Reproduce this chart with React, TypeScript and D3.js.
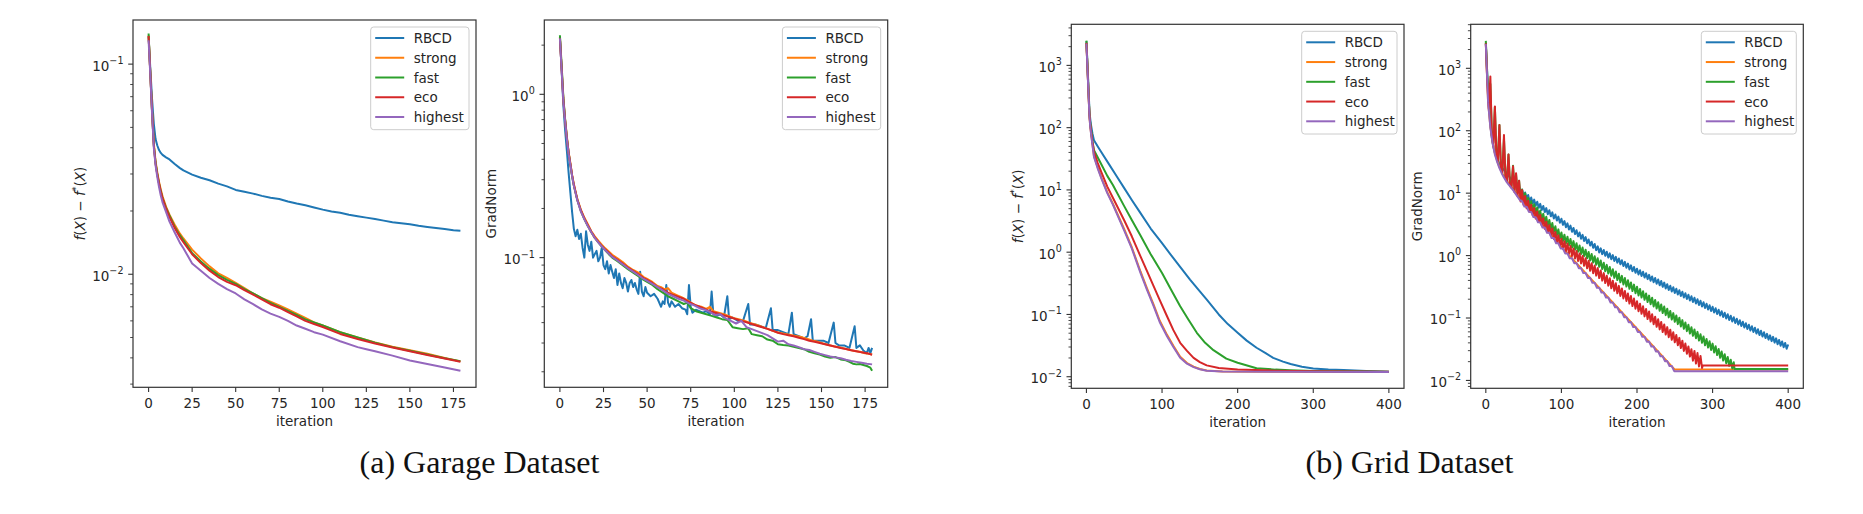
import React from "react";
import * as d3 from "d3";

type Pt = [number, number];

const seriesNames = ["RBCD", "strong", "fast", "eco", "highest"];
const seriesColors = ["#1f77b4", "#ff7f0e", "#2ca02c", "#d62728", "#9467bd"];

const garageXTicks = [0, 25, 50, 75, 100, 125, 150, 175];
const gridXTicks = [0, 100, 200, 300, 400];
const captions = ["(a) Garage Dataset", "(b) Grid Dataset"];

// ---------- (a) Garage: f(X) - f*(X) ----------
const garageCostRBCD: Pt[] = [[0,0.135],[1,0.095],[2,0.068],[3,0.052],[4,0.044],[5,0.041],[6,0.039],[7,0.0378],[8,0.037],[10,0.036],[12,0.0352],[15,0.0335],[18,0.032],[20,0.0312],[25,0.0298],[30,0.0288],[35,0.028],[40,0.027],[45,0.0262],[50,0.0252],[55,0.0247],[60,0.0242],[65,0.0236],[70,0.0231],[75,0.0228],[80,0.0222],[85,0.0217],[90,0.0213],[95,0.0208],[100,0.0203],[105,0.0199],[110,0.0196],[115,0.0192],[120,0.0189],[125,0.0186],[130,0.0183],[135,0.018],[140,0.0177],[145,0.0175],[150,0.0173],[155,0.017],[160,0.0168],[165,0.0166],[170,0.0164],[175,0.0162],[179,0.0161]];
const garageCostStrong: Pt[] = [[0,0.137],[1,0.09],[2,0.06],[3,0.042],[4,0.0345],[5,0.0305],[6,0.0275],[7,0.0253],[8,0.0235],[10,0.021],[12,0.0192],[15,0.0172],[18,0.0156],[20,0.0148],[25,0.0131],[30,0.0119],[35,0.0109],[40,0.0101],[45,0.0096],[50,0.0091],[55,0.0086],[60,0.0081],[65,0.0077],[70,0.0074],[75,0.0071],[80,0.0068],[85,0.0065],[90,0.0062],[95,0.0059],[100,0.0057],[110,0.0053],[120,0.005],[130,0.00474],[140,0.00452],[150,0.00435],[160,0.00418],[170,0.004],[179,0.00385]];
const garageCostFast: Pt[] = [[0,0.14],[1,0.09],[2,0.059],[3,0.041],[4,0.034],[5,0.03],[6,0.027],[7,0.0248],[8,0.023],[10,0.0207],[12,0.019],[15,0.0168],[18,0.0153],[20,0.0145],[25,0.0126],[30,0.0115],[35,0.0106],[40,0.0099],[45,0.0094],[50,0.009],[55,0.0085],[60,0.0081],[65,0.0077],[70,0.0073],[75,0.007],[80,0.0067],[85,0.0064],[90,0.0061],[95,0.0059],[100,0.0057],[110,0.0053],[120,0.005],[130,0.00472],[140,0.0045],[150,0.00432],[160,0.00415],[170,0.00398],[179,0.00386]];
const garageCostEco: Pt[] = [[0,0.136],[1,0.09],[2,0.059],[3,0.041],[4,0.0335],[5,0.0298],[6,0.027],[7,0.0247],[8,0.023],[10,0.0205],[12,0.0187],[15,0.0166],[18,0.015],[20,0.0142],[25,0.01245],[30,0.0113],[35,0.0104],[40,0.0097],[45,0.0092],[50,0.00887],[55,0.0084],[60,0.008],[65,0.0076],[70,0.0072],[75,0.00693],[80,0.0066],[85,0.0063],[90,0.006],[95,0.0058],[100,0.00561],[110,0.0052],[120,0.00492],[130,0.00468],[140,0.00448],[150,0.0043],[160,0.00413],[170,0.00397],[179,0.00383]];
const garageCostHighest: Pt[] = [[0,0.13],[1,0.088],[2,0.058],[3,0.04],[4,0.033],[5,0.029],[6,0.026],[7,0.0237],[8,0.022],[10,0.0198],[12,0.0178],[15,0.0158],[18,0.0141],[20,0.0133],[25,0.01125],[30,0.0104],[35,0.0096],[40,0.009],[45,0.0085],[50,0.0081],[55,0.0076],[60,0.0072],[65,0.0068],[70,0.0065],[75,0.00627],[80,0.006],[85,0.0057],[90,0.0055],[95,0.0053],[100,0.00516],[110,0.0048],[120,0.0045],[125,0.0044],[130,0.0043],[140,0.0041],[150,0.00389],[160,0.00374],[170,0.0036],[179,0.00347]];

// ---------- (a) Garage: GradNorm ----------
const garageGradRBCD: Pt[] = [[0,2.25],[1,1.4],[2,0.85],[3,0.6],[4,0.45],[5,0.33],[6,0.25],[7,0.19],[8,0.15],[9,0.135],[10,0.148],[11,0.13],[12,0.14],[13,0.115],[14,0.1],[15,0.145],[16,0.12],[17,0.11],[18,0.125],[19,0.1],[20,0.105],[21,0.11],[22,0.095],[23,0.1],[24,0.115],[25,0.09],[26,0.085],[27,0.095],[28,0.08],[29,0.09],[30,0.082],[31,0.075],[32,0.085],[33,0.068],[34,0.08],[35,0.07],[36,0.065],[37,0.075],[38,0.07],[39,0.062],[40,0.07],[41,0.073],[42,0.066],[43,0.07],[44,0.064],[45,0.06],[46,0.082],[47,0.062],[48,0.058],[49,0.066],[50,0.061],[52,0.058],[54,0.06],[56,0.056],[58,0.05],[59,0.054],[60,0.052],[61,0.068],[62,0.053],[63,0.05],[64,0.054],[66,0.05],[68,0.052],[70,0.049],[72,0.048],[73,0.045],[74,0.068],[75,0.05],[76,0.046],[78,0.048],[80,0.047],[82,0.046],[84,0.047],[86,0.045],[87,0.062],[88,0.045],[90,0.044],[92,0.045],[94,0.043],[96,0.058],[97,0.042],[99,0.043],[102,0.041],[105,0.041],[108,0.052],[109,0.039],[112,0.039],[115,0.038],[118,0.037],[121,0.049],[122,0.036],[125,0.036],[128,0.035],[131,0.034],[133,0.046],[134,0.034],[137,0.033],[140,0.032],[142,0.033],[144,0.042],[145,0.031],[148,0.031],[151,0.031],[154,0.03],[157,0.04],[158,0.03],[160,0.029],[163,0.029],[166,0.028],[169,0.038],[170,0.028],[172,0.029],[174,0.027],[176,0.026],[177,0.028],[178,0.026],[179,0.028]];
const garageGradStrong: Pt[] = [[0,2.25],[1,1.45],[2,0.93],[3,0.7],[4,0.55],[5,0.44],[6,0.38],[7,0.32],[8,0.28],[10,0.228],[12,0.197],[14,0.176],[16,0.16],[18,0.145],[20,0.135],[22,0.127],[24,0.12],[26,0.114],[28,0.109],[30,0.104],[33,0.099],[36,0.094],[39,0.088],[42,0.084],[45,0.081],[48,0.076],[50,0.074],[53,0.071],[56,0.067],[58,0.066],[60,0.064],[62,0.065],[64,0.061],[67,0.059],[70,0.057],[73,0.055],[75,0.053],[78,0.051],[81,0.05],[84,0.0485],[86,0.05],[88,0.047],[91,0.046],[94,0.045],[97,0.0438],[100,0.0425],[103,0.0418],[106,0.041],[109,0.0398],[112,0.039],[115,0.038],[118,0.037],[121,0.036],[124,0.035],[127,0.0345],[130,0.034],[133,0.0335],[136,0.033],[139,0.0325],[142,0.0318],[145,0.031],[148,0.0305],[151,0.0298],[154,0.0292],[157,0.0287],[160,0.0283],[163,0.0278],[166,0.0273],[169,0.0268],[172,0.0265],[175,0.026],[177,0.0258],[179,0.0255]];
const garageGradFast: Pt[] = [[0,2.3],[1,1.5],[2,0.95],[3,0.7],[4,0.54],[5,0.44],[6,0.37],[7,0.315],[8,0.275],[10,0.225],[12,0.193],[14,0.172],[16,0.156],[18,0.143],[20,0.132],[22,0.124],[24,0.117],[26,0.111],[28,0.105],[30,0.1],[33,0.095],[36,0.09],[39,0.085],[42,0.081],[45,0.077],[48,0.073],[50,0.071],[53,0.068],[56,0.064],[59,0.061],[62,0.058],[65,0.056],[68,0.054],[71,0.052],[73,0.053],[75,0.049],[78,0.047],[81,0.046],[84,0.045],[87,0.044],[90,0.043],[93,0.042],[96,0.0415],[99,0.0375],[102,0.037],[105,0.0365],[108,0.037],[110,0.034],[113,0.0335],[116,0.033],[119,0.0315],[122,0.031],[125,0.0295],[128,0.0292],[131,0.029],[134,0.0285],[137,0.028],[140,0.0275],[143,0.0265],[146,0.026],[149,0.0255],[152,0.0248],[155,0.0244],[158,0.0246],[161,0.0238],[164,0.0235],[166,0.023],[168,0.0224],[170,0.0222],[172,0.0223],[174,0.022],[176,0.0217],[178,0.0212],[179,0.0203]];
const garageGradEco: Pt[] = [[0,2.2],[1,1.42],[2,0.92],[3,0.69],[4,0.54],[5,0.44],[6,0.375],[7,0.32],[8,0.28],[10,0.226],[12,0.195],[14,0.174],[16,0.158],[18,0.144],[20,0.133],[22,0.125],[24,0.118],[26,0.112],[28,0.107],[30,0.102],[33,0.097],[36,0.092],[39,0.087],[42,0.083],[45,0.079],[48,0.075],[50,0.073],[53,0.07],[56,0.066],[59,0.064],[62,0.061],[65,0.059],[68,0.0575],[71,0.056],[74,0.0535],[77,0.0515],[80,0.05],[83,0.0485],[86,0.047],[89,0.046],[92,0.045],[95,0.044],[98,0.043],[101,0.042],[104,0.041],[107,0.0402],[110,0.0392],[113,0.0383],[116,0.0375],[119,0.0366],[122,0.0357],[125,0.0347],[128,0.034],[131,0.0335],[134,0.033],[137,0.0323],[140,0.0317],[143,0.031],[146,0.0305],[149,0.03],[152,0.0295],[155,0.029],[158,0.0285],[161,0.028],[164,0.0276],[167,0.0271],[170,0.0267],[173,0.0263],[176,0.026],[179,0.0254]];
const garageGradHighest: Pt[] = [[0,2.2],[1,1.4],[2,0.9],[3,0.68],[4,0.53],[5,0.43],[6,0.37],[7,0.315],[8,0.275],[10,0.224],[12,0.192],[14,0.172],[16,0.156],[18,0.143],[20,0.132],[22,0.124],[24,0.117],[26,0.111],[28,0.106],[30,0.101],[33,0.096],[36,0.091],[39,0.086],[42,0.082],[45,0.078],[48,0.074],[50,0.072],[53,0.069],[56,0.066],[59,0.063],[62,0.06],[65,0.058],[68,0.056],[71,0.0545],[74,0.0525],[77,0.051],[80,0.049],[83,0.048],[86,0.0465],[89,0.0445],[92,0.045],[95,0.0425],[98,0.041],[101,0.0395],[104,0.041],[107,0.0375],[110,0.0365],[113,0.0355],[116,0.0345],[119,0.0335],[122,0.032],[125,0.0306],[128,0.031],[131,0.0295],[134,0.029],[137,0.0283],[140,0.0275],[143,0.0272],[146,0.0265],[149,0.0258],[152,0.0253],[155,0.0248],[158,0.0245],[161,0.0242],[164,0.0237],[167,0.0233],[170,0.023],[173,0.0227],[176,0.0224],[179,0.0222]];

// ---------- (b) Grid: f(X) - f*(X) ----------
const gridCostRBCD: Pt[] = [[0,2450],[2,700],[4,190],[5,140],[6,112],[8,80],[10,63],[15,50],[20,39.8],[30,25.7],[40,16.6],[50,10.7],[60,6.9],[70,4.52],[85,2.4],[100,1.4],[115,0.8],[137,0.363],[150,0.235],[160,0.168],[175,0.1],[187,0.07],[200,0.0507],[212,0.038],[225,0.0292],[237,0.024],[247,0.0201],[260,0.0175],[270,0.016],[285,0.0145],[300,0.0136],[320,0.0131],[340,0.0128],[370,0.0124],[400,0.012]];
const gridCostStrong: Pt[] = [[0,2300],[2,600],[4,155],[5,108],[6,85],[8,54],[10,35],[15,23],[20,15.5],[27.6,9.2],[35,6],[49.6,2.4],[60,1.2],[71.5,0.49],[80,0.265],[89,0.142],[97,0.079],[106.6,0.047],[115,0.0315],[124,0.021],[133,0.0166],[141.7,0.0145],[150,0.0133],[159,0.0126],[180,0.0121],[250,0.012],[400,0.0119]];
const gridCostFast: Pt[] = [[0,2500],[2,650],[4,170],[5,120],[6,95],[8,60],[10,43.6],[15,33.1],[20,25.4],[27.6,16.8],[35,12],[49.6,5.6],[60,3.3],[71.5,1.85],[85,0.93],[100,0.464],[112,0.25],[124,0.135],[135,0.082],[146,0.0507],[157,0.035],[168,0.0267],[185,0.0195],[200,0.0168],[225,0.0137],[250,0.013],[269,0.0127],[300,0.0124],[350,0.0122],[400,0.012]];
const gridCostEco: Pt[] = [[0,2300],[2,600],[4,160],[5,115],[6,90],[8,58],[10,41],[15,27],[20,19],[27.6,11.3],[35,7.5],[49.6,3.32],[60,1.8],[71.5,0.857],[80,0.5],[89,0.283],[97,0.17],[106.6,0.0935],[115,0.056],[124,0.035],[133,0.026],[141.7,0.0201],[150,0.0172],[159,0.0152],[175,0.0138],[200,0.0131],[250,0.0125],[300,0.0122],[400,0.012]];
const gridCostHighest: Pt[] = [[0,2250],[2,580],[4,150],[5,105],[6,82],[8,52],[10,34],[15,22],[20,15],[27.6,8.9],[35,5.8],[49.6,2.29],[60,1.15],[71.5,0.464],[80,0.25],[89,0.135],[97,0.075],[106.6,0.0448],[115,0.03],[124,0.0201],[133,0.0162],[141.7,0.01425],[150,0.0132],[159,0.0125],[180,0.0121],[250,0.012],[400,0.0119]];

// ---------- (b) Grid: GradNorm ----------
// log10 of GradNorm, one reading every 2 iterations (every 3 for "highest")
const gridGradStep = 2;
const gridGradStepHighest = 3;
const gridGradRBCDExp: number[] = [3.41,2.9,2.45,2.1,1.88,1.74,1.65,1.58,1.52,1.47,1.43,1.4,1.37,1.34,1.31,1.28,1.25,1.22,1.19,1.16,
1.15,1.046,1.102,0.998,1.054,0.95,1.01,0.91,0.97,0.87,0.93,0.833,0.896,0.799,0.862,0.765,0.828,0.731,0.794,0.697,
0.76,0.663,0.726,0.629,0.692,0.595,0.658,0.561,0.624,0.527,0.59,0.492,0.553,0.455,0.516,0.418,0.48,0.381,0.443,0.344,
0.406,0.308,0.369,0.271,0.332,0.234,0.296,0.197,0.259,0.16,0.222,0.124,0.185,0.087,0.148,0.05,0.116,0.023,0.089,-0.004,
0.062,-0.032,0.035,-0.059,0.008,-0.086,-0.02,-0.113,-0.047,-0.14,-0.074,-0.168,-0.101,-0.195,-0.128,-0.222,-0.156,-0.249,-0.183,-0.276,
-0.21,-0.302,-0.235,-0.327,-0.26,-0.352,-0.284,-0.377,-0.309,-0.402,-0.334,-0.426,-0.359,-0.451,-0.384,-0.476,-0.408,-0.501,-0.433,-0.526,
-0.458,-0.55,-0.483,-0.575,-0.508,-0.6,-0.532,-0.624,-0.556,-0.648,-0.58,-0.672,-0.604,-0.696,-0.628,-0.72,-0.652,-0.744,-0.676,-0.768,
-0.7,-0.792,-0.724,-0.816,-0.748,-0.84,-0.772,-0.864,-0.796,-0.888,-0.82,-0.912,-0.844,-0.936,-0.868,-0.96,-0.892,-0.984,-0.916,-1.008,
-0.94,-1.032,-0.964,-1.056,-0.988,-1.08,-1.012,-1.104,-1.036,-1.128,-1.06,-1.152,-1.084,-1.176,-1.108,-1.2,-1.132,-1.224,-1.156,-1.249,
-1.181,-1.273,-1.205,-1.297,-1.229,-1.321,-1.254,-1.346,-1.278,-1.37,-1.302,-1.394,-1.326,-1.419,-1.351,-1.443,-1.375,-1.467,-1.399,-1.491,-1.424];
const gridGradStrong: Pt[] = [[0,2500],[3,290],[6,117],[9,66],[12,43.6],[15,33],[18,26.3],[21,21.9],[24,18.6],[27,16.2],[30,14.5],[36,11.7],[45,8.1],[100,1.38],[151,0.295],[200,0.0676],[250,0.0149],[400,0.0149]];
const gridGradFastExp: number[] = [3.44,2.85,2.45,2.75,1.93,1.81,2.38,1.65,1.55,2.09,
1.43,1.38,1.87,1.27,1.23,1.62,1.157,1.123,1.44,1.059,
1.3,0.997,1.2,0.927,1.06,0.877,1.0,0.827,0.922,0.777,
0.872,0.727,0.822,0.676,0.771,0.626,0.721,0.576,0.671,0.526,
0.621,0.476,0.571,0.426,0.521,0.376,0.47,0.325,0.42,0.275,
0.37,0.233,0.335,0.198,0.301,0.164,0.266,0.129,0.232,0.095,
0.197,0.06,0.163,0.026,0.128,-0.009,0.094,-0.043,0.059,-0.078,
0.025,-0.112,-0.01,-0.147,-0.044,-0.181,-0.079,-0.216,-0.114,-0.251,
-0.149,-0.287,-0.184,-0.322,-0.219,-0.357,-0.254,-0.392,-0.29,-0.427,
-0.325,-0.462,-0.36,-0.497,-0.395,-0.532,-0.43,-0.567,-0.465,-0.602,
-0.5,-0.638,-0.535,-0.673,-0.57,-0.708,-0.606,-0.743,-0.641,-0.778,
-0.676,-0.814,-0.711,-0.849,-0.746,-0.884,-0.782,-0.919,-0.817,-0.954,
-0.852,-0.99,-0.887,-1.025,-0.922,-1.06,-0.959,-1.098,-0.996,-1.135,
-1.034,-1.173,-1.072,-1.21,-1.109,-1.248,-1.147,-1.286,-1.184,-1.323,
-1.222,-1.361,-1.26,-1.398,-1.297,-1.436,-1.335,-1.474,-1.372,-1.511,
-1.41,-1.551,-1.453,-1.594,-1.496,-1.637,-1.538,-1.68,-1.581,-1.723,
-1.624,-1.765,-1.667,-1.808,-1.71];
const gridGradFastTail: Pt[] = [[329,0.0153],[400,0.0153]];
const gridGradEcoExp: number[] = [3.4,2.75,2.35,2.87,1.92,1.75,2.39,1.59,1.52,2.09,
1.39,1.33,1.93,1.23,1.19,1.62,1.117,1.083,1.43,1.017,
1.32,0.95,1.2,0.866,1.05,0.812,0.955,0.757,0.88,0.703,
0.815,0.648,0.761,0.594,0.706,0.539,0.652,0.485,0.597,0.43,
0.543,0.375,0.488,0.321,0.434,0.266,0.379,0.212,0.325,0.157,
0.27,0.11,0.231,0.071,0.192,0.032,0.152,-0.007,0.113,-0.046,
0.074,-0.086,0.035,-0.125,-0.005,-0.164,-0.044,-0.203,-0.083,-0.243,
-0.122,-0.282,-0.161,-0.321,-0.201,-0.36,-0.24,-0.401,-0.281,-0.441,
-0.322,-0.482,-0.363,-0.523,-0.403,-0.564,-0.444,-0.605,-0.485,-0.646,
-0.526,-0.686,-0.567,-0.727,-0.608,-0.768,-0.648,-0.809,-0.689,-0.85,
-0.73,-0.891,-0.772,-0.932,-0.813,-0.974,-0.855,-1.016,-0.896,-1.057,
-0.938,-1.099,-0.98,-1.14,-1.021,-1.182,-1.063,-1.224,-1.104,-1.265,
-1.146,-1.307,-1.188,-1.348,-1.229,-1.39,-1.273,-1.436,-1.318,-1.481,
-1.364,-1.527,-1.409,-1.572,-1.455,-1.618,-1.501,-1.684,-1.527,-1.729,
-1.562,-1.775,-1.608,-1.8];
const gridGradEcoTail: Pt[] = [[287,0.0173],[400,0.0173]];
const gridGradHighestExp: number[] = [3.39,2.45,2.05,1.8,1.62,1.5,1.4,1.32,1.25,1.19,
1.14,1.095,1.05,0.997,0.943,0.89,0.868,0.786,0.784,0.702,
0.7,0.618,0.616,0.534,0.532,0.45,0.448,0.366,0.364,0.282,
0.28,0.198,0.196,0.114,0.114,0.035,0.035,-0.044,-0.043,-0.122,
-0.122,-0.201,-0.2,-0.28,-0.279,-0.358,-0.357,-0.436,-0.435,-0.515,
-0.514,-0.593,-0.593,-0.672,-0.671,-0.751,-0.75,-0.829,-0.829,-0.908,
-0.907,-0.987,-0.986,-1.066,-1.065,-1.144,-1.144,-1.223,-1.222,-1.301,
-1.3,-1.379,-1.378,-1.457,-1.456,-1.535,-1.534,-1.613,-1.612,-1.691,
-1.69,-1.769,-1.768,-1.847];
const gridGradHighestTail: Pt[] = [[250,0.014],[400,0.014]];

const FONT = "'DejaVu Sans', Verdana, sans-serif";
const SERIF = "'Liberation Serif', 'Times New Roman', Times, serif";
const TICK_FS = 13.5;

type PanelProps = {
  id: string;
  left: number; top: number; right: number; bottom: number;
  xDomain: [number, number];
  xTicks: number[];
  yExpDomain: [number, number];
  yLabel: "cost" | "grad";
  series: Pt[][];
  legendWidth: number;
};

const supText = (k: number) => (k < 0 ? "\u2212" + Math.abs(k) : String(k));
const fromExp = (arr: number[], step: number): Pt[] => arr.map((e, i) => [i * step, Math.pow(10, e)] as Pt);

function Panel(p: PanelProps) {
  const x = d3.scaleLinear().domain(p.xDomain).range([p.left, p.right]);
  const y = d3.scaleLog().domain([Math.pow(10, p.yExpDomain[0]), Math.pow(10, p.yExpDomain[1])]).range([p.bottom, p.top]);
  const line = d3.line<Pt>().x((d) => x(d[0])).y((d) => y(d[1]));
  const majors: number[] = [];
  const minors: number[] = [];
  for (let k = Math.floor(p.yExpDomain[0]); k <= Math.ceil(p.yExpDomain[1]); k++) {
    const v = Math.pow(10, k);
    if (k >= p.yExpDomain[0] && k <= p.yExpDomain[1]) majors.push(k);
    for (let m = 2; m <= 9; m++) {
      const mv = m * v;
      const e = Math.log10(mv);
      if (e >= p.yExpDomain[0] && e <= p.yExpDomain[1]) minors.push(mv);
    }
  }
  const cx = (p.left + p.right) / 2;
  const cy = (p.top + p.bottom) / 2;
  const lw = p.legendWidth;
  const lx = p.right - 7 - lw;
  const ly = p.top + 7;
  const axisColor = "#333";
  return (
    <g>
      <defs>
        <clipPath id={p.id}>
          <rect x={p.left} y={p.top} width={p.right - p.left} height={p.bottom - p.top} />
        </clipPath>
      </defs>
      <rect x={p.left} y={p.top} width={p.right - p.left} height={p.bottom - p.top} fill="#fff" />
      <g clipPath={`url(#${p.id})`}>
        {p.series.map((s, i) => (
          <path key={i} d={line(s) || ""} fill="none" stroke={seriesColors[i]} strokeWidth={2} strokeLinejoin="round" />
        ))}
      </g>
      <rect x={p.left} y={p.top} width={p.right - p.left} height={p.bottom - p.top} fill="none" stroke={axisColor} strokeWidth={1.2} />
      {p.xTicks.map((t) => (
        <g key={"xt" + t}>
          <line x1={x(t)} x2={x(t)} y1={p.bottom} y2={p.bottom + 4.8} stroke={axisColor} strokeWidth={1.1} />
          <text x={x(t)} y={p.bottom + 20.5} textAnchor="middle" fontFamily={FONT} fontSize={TICK_FS} fill="#262626">{t}</text>
        </g>
      ))}
      {minors.map((v, i) => (
        <line key={"mn" + i} x1={p.left - 2.8} x2={p.left} y1={y(v)} y2={y(v)} stroke={axisColor} strokeWidth={0.9} />
      ))}
      {majors.map((k) => (
        <g key={"yt" + k}>
          <line x1={p.left - 4.8} x2={p.left} y1={y(Math.pow(10, k))} y2={y(Math.pow(10, k))} stroke={axisColor} strokeWidth={1.1} />
          <text x={p.left - 9.5} y={y(Math.pow(10, k)) + 6.4} textAnchor="end" fontFamily={FONT} fontSize={TICK_FS} fill="#262626">
            10<tspan dy={-6.5} fontSize={9.6}>{supText(k)}</tspan>
          </text>
        </g>
      ))}
      <text x={cx} y={p.bottom + 38.5} textAnchor="middle" fontFamily={FONT} fontSize={TICK_FS} fill="#262626">iteration</text>
      <text transform={`translate(${p.left - 53.5},${cy}) rotate(-90)`} textAnchor="middle" dominantBaseline="central" fontFamily={FONT} fontSize={TICK_FS} fill="#262626">
        {p.yLabel === "grad" ? (
          "GradNorm"
        ) : (
          <>
            <tspan fontStyle="italic">f</tspan>(<tspan fontStyle="italic">X</tspan>) {"\u2212"} <tspan fontStyle="italic">f</tspan>
            <tspan dy={-5} fontSize={9.5}>*</tspan>
            <tspan dy={5}>(</tspan><tspan fontStyle="italic">X</tspan>)
          </>
        )}
      </text>
      <rect x={lx} y={ly} width={lw} height={102.7} rx={3} fill="#fff" fillOpacity={0.8} stroke="#cccccc" strokeWidth={1} />
      {seriesNames.map((n, i) => {
        const yy = ly + 11 + i * 19.75;
        return (
          <g key={n}>
            <line x1={lx + 4.5} x2={lx + 33.5} y1={yy} y2={yy} stroke={seriesColors[i]} strokeWidth={2} />
            <text x={lx + 43} y={yy + 5} fontFamily={FONT} fontSize={TICK_FS} fill="#262626">{n}</text>
          </g>
        );
      })}
    </g>
  );
}

export default function App() {
  const gridGradRBCD = fromExp(gridGradRBCDExp, gridGradStep);
  const gridGradFast = fromExp(gridGradFastExp, gridGradStep).concat(gridGradFastTail);
  const gridGradEco = fromExp(gridGradEcoExp, gridGradStep).concat(gridGradEcoTail);
  const gridGradHighest = fromExp(gridGradHighestExp, gridGradStepHighest).concat(gridGradHighestTail);
  return (
    <svg width={1863} height={514} viewBox="0 0 1863 514" style={{ position: "absolute", left: 0, top: 0, background: "#fff" }}>
      <rect x={0} y={0} width={1863} height={514} fill="#fff" />
      <Panel id="c1" left={133} top={20} right={476} bottom={387.3} xDomain={[-8.95, 187.95]} xTicks={garageXTicks}
        yExpDomain={[-2.538, -0.79]} yLabel="cost" legendWidth={98.3}
        series={[garageCostRBCD, garageCostStrong, garageCostFast, garageCostEco, garageCostHighest]} />
      <Panel id="c2" left={544.3} top={20} right={887.7} bottom={387.3} xDomain={[-8.95, 187.95]} xTicks={garageXTicks}
        yExpDomain={[-1.794, 0.455]} yLabel="grad" legendWidth={98.3}
        series={[garageGradRBCD, garageGradStrong, garageGradFast, garageGradEco, garageGradHighest]} />
      <Panel id="c3" left={1071.3} top={24.3} right={1404} bottom={388.3} xDomain={[-20, 420]} xTicks={gridXTicks}
        yExpDomain={[-2.186, 3.66]} yLabel="cost" legendWidth={95.3}
        series={[gridCostRBCD, gridCostStrong, gridCostFast, gridCostEco, gridCostHighest]} />
      <Panel id="c4" left={1470.7} top={24.3} right={1803.3} bottom={388.3} xDomain={[-20, 420]} xTicks={gridXTicks}
        yExpDomain={[-2.126, 3.705]} yLabel="grad" legendWidth={95}
        series={[gridGradRBCD, gridGradStrong, gridGradFast, gridGradEco, gridGradHighest]} />
      <text x={479.5} y={473} textAnchor="middle" fontFamily={SERIF} fontSize={32} fill="#111">{captions[0]}</text>
      <text x={1409.5} y={473} textAnchor="middle" fontFamily={SERIF} fontSize={32} fill="#111">{captions[1]}</text>
    </svg>
  );
}
